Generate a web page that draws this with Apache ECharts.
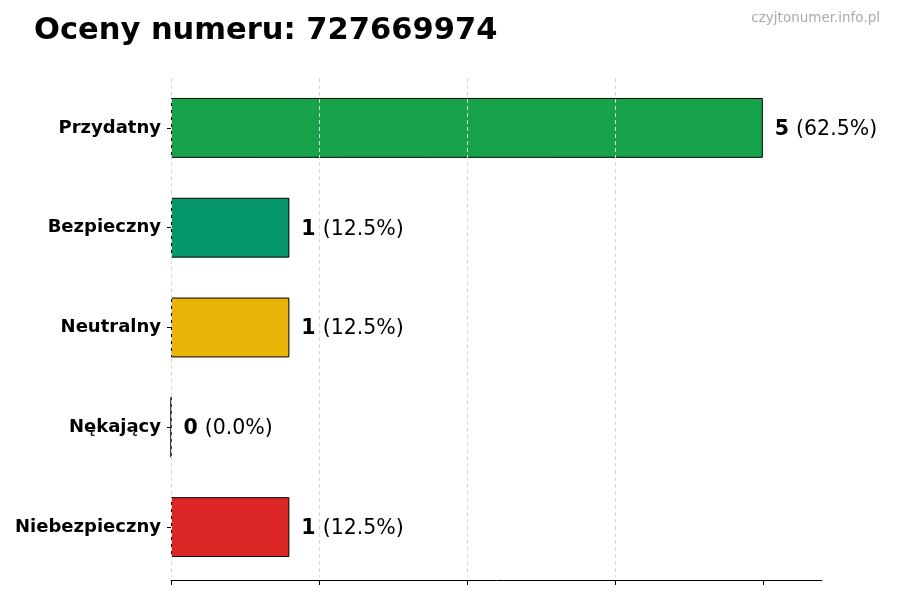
<!DOCTYPE html>
<html><head><meta charset="utf-8">
<script src="https://cdn.jsdelivr.net/npm/echarts@6/dist/echarts.min.js"></script>
<style>html,body{margin:0;padding:0;background:#fff}#c{width:900px;height:600px}</style>
</head><body><div id="c"></div>
<script>
const categories = ['Przydatny', 'Bezpieczny', 'Neutralny', 'Nękający', 'Niebezpieczny'];
const values = [5, 1, 1, 0, 1];
const colors = ['#16a34a', '#059669', '#eab308', '#f97316', '#dc2626'];
const tickValues = [0, 1.25, 2.5, 3.75, 5];
const total = values.reduce((a, b) => a + b, 0);
const F = 'DejaVu Sans';

const chart = echarts.init(document.getElementById('c'));
chart.setOption({
  animation: false,
  backgroundColor: '#fff',
  title: [
    { text: 'Oceny numeru: 727669974', left: 34, top: 16, padding: 0,
      textStyle: { fontFamily: F, fontSize: 30.5, fontWeight: 'bold', color: '#000' } },
    { text: 'czyjtonumer.info.pl', right: 20, top: 11, padding: 0,
      textStyle: { fontFamily: F, fontSize: 13.5, fontWeight: 'normal', color: '#aaaaaa' } }
  ],
  grid: { left: 171, right: 78, top: 78, bottom: 23, containLabel: false },
  xAxis: {
    type: 'value', min: 0, max: 5.5, interval: 1.25, z: 3, offset: 3,
    axisLine: { show: true, lineStyle: { color: '#000', width: 1 } },
    axisTick: { show: true, length: 5, customValues: tickValues, lineStyle: { color: '#000' } },
    axisLabel: { show: false },
    splitLine: { show: true, showMaxLine: false, lineStyle: { color: '#d6d6d6', type: [4, 3], width: 1 } }
  },
  yAxis: {
    type: 'category', data: categories, inverse: true,
    axisLine: { show: false },
    axisTick: { show: true, length: 4, alignWithLabel: true, lineStyle: { color: '#000' } },
    axisLabel: { fontFamily: F, fontSize: 18, fontWeight: 'bold', color: '#000', margin: 10, padding: [6, 0, 0, 0] }
  },
  series: [{
    type: 'bar',
    barWidth: '60%',
    data: values.map((v, i) => ({ value: v, itemStyle: { color: colors[i] } })),
    itemStyle: { borderColor: '#000', borderWidth: 1 },
    label: {
      show: true, position: 'right', distance: 12,
      formatter: p => '{b|' + p.value + '}{s| }{n|(' + (p.value / total * 100).toFixed(1) + '%)}',
      rich: {
        b: { fontFamily: F, fontSize: 20.5, fontWeight: 'bold', color: '#000', padding: [3, 0, 0, 0] },
        s: { fontFamily: F, fontSize: 20.5, width: 7, padding: [3, 0, 0, 0] },
        n: { fontFamily: F, fontSize: 20.5, color: '#000', padding: [3, 0, 0, 0] }
      }
    }
  }]
});
</script></body></html>
